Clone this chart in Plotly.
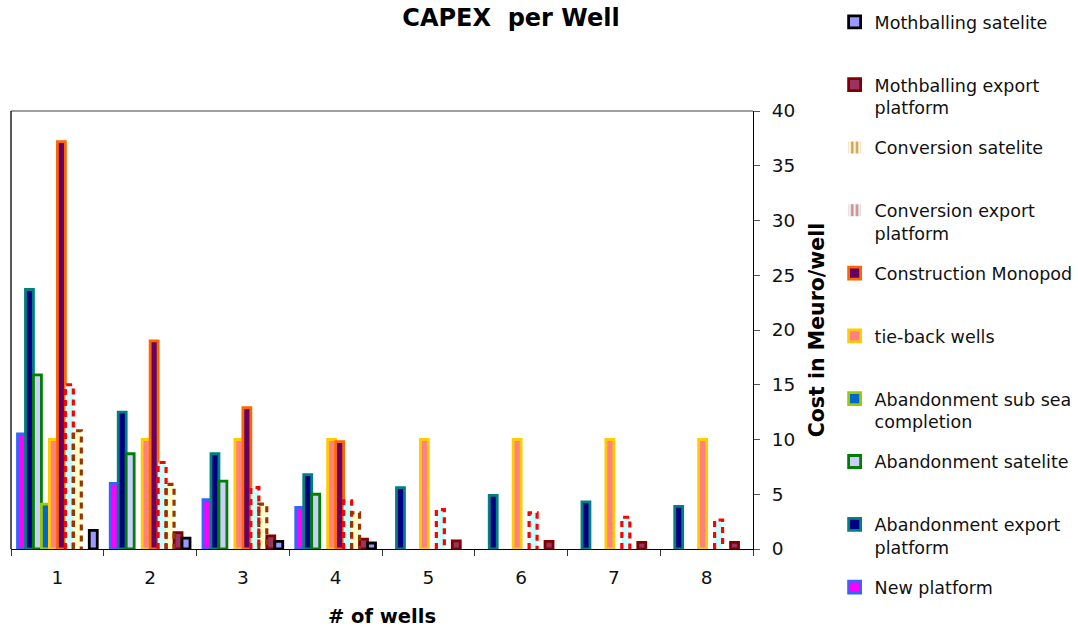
import plotly.graph_objects as go

# Number of wells per development (category axis)
wells = ["1", "2", "3", "4", "5", "6", "7", "8"]

# CAPEX per well in Meuro/well, one list per cost item (None = not applicable)
new_platform = [10.5, 6.0, 4.5, 3.8, None, None, None, None]
abandonment_export = [23.7, 12.5, 8.7, 6.8, 5.6, 4.9, 4.3, 3.9]
abandonment_satelite = [15.9, 8.7, 6.2, 5.0, None, None, None, None]
abandonment_subsea = [4.1, None, None, None, None, None, None, None]
tie_back = [10, 10, 10, 10, 10, 10, 10, 10]
construction_monopod = [37.2, 19.0, 12.9, 9.8, None, None, None, None]
conversion_export = [15.0, 7.9, 5.6, 4.4, 3.6, 3.3, 2.9, 2.65]
conversion_satelite = [10.8, 5.9, 4.1, 3.3, None, None, None, None]
mothballing_export = [None, 1.5, 1.2, 0.9, 0.75, 0.7, 0.6, 0.6]
mothballing_satelite = [1.7, 1.0, 0.7, 0.55, None, None, None, None]

# (legend label, values, fill colour, border colour, dashed border)
series = [
    ("New platform", new_platform, "#FF00FF", "#3366FF", False),
    ("Abandonment export<br>platform", abandonment_export, "#000080", "#008080", False),
    ("Abandonment satelite", abandonment_satelite, "#CCCCFF", "#008000", False),
    ("Abandonment sub sea<br>completion", abandonment_subsea, "#0066CC", "#99CC00", False),
    ("tie-back wells", tie_back, "#FF8080", "#FFCC00", False),
    ("Construction Monopod", construction_monopod, "#660066", "#FF6600", False),
    ("Conversion export<br>platform", conversion_export, "#CCFFFF", "#FF0000", True),
    ("Conversion satelite", conversion_satelite, "#FFFFCC", "#993300", True),
    ("Mothballing export<br>platform", mothballing_export, "#993366", "#800000", False),
    ("Mothballing satelite", mothballing_satelite, "#9999FF", "#000000", False),
]

FONT = "DejaVu Sans"
BAR_W = 0.086                      # bar width in category units
START = -len(series) * BAR_W / 2   # left edge of the first bar in a group
N = len(series)

fig = go.Figure()

for i, (label, vals, fill, border, dashed) in enumerate(series):
    # keep every legend entry two lines tall so entries are evenly spaced
    legend_label = label if ("<br>" in label or i == 0) else label + "<br>\u00a0"
    rank = (N - i) * 10            # last series listed first in the legend
    offset = START + i * BAR_W
    fig.add_trace(go.Bar(
        x=wells, y=vals, name=legend_label, legendgroup=label, legendrank=rank,
        offset=offset, width=BAR_W,
        marker=dict(color=fill,
                    line=dict(color=border, width=0 if dashed else 2.8)),
        showlegend=not dashed,
        hoverinfo="x+y+name",
    ))
    if dashed:
        # dashed outline around each bar of this series
        xs, ys = [], []
        for c, v in enumerate(vals):
            if v is None:
                continue
            x0 = c + offset
            x1 = x0 + BAR_W
            xs += [x0, x0, x1, x1, None]
            ys += [0, v, v, 0, None]
        fig.add_trace(go.Scatter(
            x=xs, y=ys, mode="lines", xaxis="x2", legendgroup=label,
            legendrank=rank,
            line=dict(color=border, width=3.2, dash="6px,5px"),
            showlegend=False, hoverinfo="skip",
        ))
        # legend swatch for the dashed series
        fig.add_trace(go.Bar(
            x=[None], y=[None], name=legend_label, legendgroup=label,
            legendrank=rank,
            marker=dict(color=fill, line=dict(width=0),
                        pattern=dict(shape="|", fgcolor=border, bgcolor=fill,
                                     size=6, solidity=0.5)),
            showlegend=True,
        ))

x_range = [-0.5, len(wells) - 0.5]

fig.update_layout(
    width=1078, height=628,
    margin=dict(l=11, r=325, t=111, b=79, autoexpand=False),
    paper_bgcolor="white", plot_bgcolor="white",
    barmode="overlay",
    font=dict(family=FONT, color="#111111"),
    title=dict(text="<b>CAPEX\u00a0\u00a0per Well</b>", x=0.474, xanchor="center",
               y=1 - 18 / 628, yanchor="middle",
               font=dict(family=FONT, size=24, color="#000000")),
    xaxis=dict(
        type="category", range=x_range, tickson="boundaries",
        ticks="outside", ticklen=6, tickcolor="#333333", tickwidth=1,
        showline=True, linecolor="#000000", linewidth=1.3,
        showgrid=False, zeroline=False,
        tickfont=dict(family=FONT, size=18.5, color="#111111"),
        ticklabelstandoff=12,
        title=dict(text="<b># of wells</b>", standoff=23,
                   font=dict(family=FONT, size=19.5, color="#000000")),
    ),
    xaxis2=dict(overlaying="x", range=x_range, visible=False, anchor="y"),
    yaxis=dict(
        side="right", range=[0, 40], dtick=5,
        ticks="outside", ticklen=6, tickcolor="#555555", tickwidth=1,
        showline=True, linecolor="#000000", linewidth=1.3,
        showgrid=False, zeroline=False,
        tickfont=dict(family=FONT, size=18.5, color="#111111"),
        ticklabelstandoff=8,
        title=dict(text="<b>Cost in Meuro/well</b>", standoff=15,
                   font=dict(family=FONT, size=20.5, color="#000000")),
    ),
    legend=dict(
        x=1.11, xanchor="left", yref="container", y=1 - 4 / 628, yanchor="top",
        traceorder="grouped", tracegroupgap=14.3, valign="top",
        font=dict(family=FONT, size=17.5, color="#111111"),
        bgcolor="rgba(0,0,0,0)", borderwidth=0,
        maxheight=1,
    ),
    shapes=[
        dict(type="line", xref="paper", yref="paper", x0=0, x1=1, y0=1, y1=1,
             line=dict(color="#808080", width=1.5)),
        dict(type="line", xref="paper", yref="paper", x0=0, x1=0, y0=0, y1=1,
             line=dict(color="#000000", width=1.3)),
    ],
)

fig.write_html("out.html")
